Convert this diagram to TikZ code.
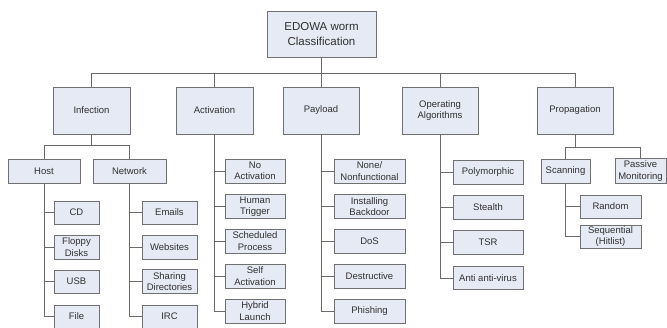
\documentclass[tikz,border=0pt]{standalone}
\usepackage{fontspec}
\setmainfont{Liberation Sans}
\definecolor{boxfill}{HTML}{E6EAF5}
\definecolor{boxline}{HTML}{707070}
\definecolor{linkc}{HTML}{6A6A6A}
\definecolor{txt}{HTML}{303030}
\begin{document}
\begin{tikzpicture}[x=1pt,y=-1pt,
  box/.style={draw=boxline, fill=boxfill, line width=0.8pt, inner sep=0pt, align=center, text=txt,
    font=\fontsize{9.5}{11.5}\selectfont},
  link/.style={draw=linkc, line width=0.8pt}]
\useasboundingbox (0,0) rectangle (667,327);
\clip (0,0) rectangle (667,327);
% root
\node[box, minimum width=109, minimum height=46, font=\fontsize{11.5}{15.5}\selectfont] (root) at (321.5,34) {EDOWA worm\\Classification};
% level 1
\node[box, minimum width=77, minimum height=47] (inf) at (91.5,110.5) {Infection};
\node[box, minimum width=77, minimum height=47] (act) at (214.5,110.5) {Activation};
\node[box, minimum width=76, minimum height=47] (pay) at (321,110.5) {Payload};
\node[box, minimum width=76, minimum height=47] (opa) at (440,110.5) {Operating\\Algorithms};
\node[box, minimum width=76, minimum height=47] (pro) at (575,110.5) {Propagation};
% infection level 2
\node[box, minimum width=72, minimum height=24] (host) at (44,171) {Host};
\node[box, minimum width=73, minimum height=24] (net) at (129.5,171) {Network};
% host children
\node[box, minimum width=45, minimum height=23] (cd) at (76.5,212.5) {CD};
\node[box, minimum width=45, minimum height=24] (floppy) at (76.5,247) {Floppy\\Disks};
\node[box, minimum width=45, minimum height=23] (usb) at (76.5,281.5) {USB};
\node[box, minimum width=45, minimum height=23] (file) at (76.5,316.5) {File};
% network children
\node[box, minimum width=55, minimum height=23] (emails) at (169.5,212.5) {Emails};
\node[box, minimum width=55, minimum height=24] (web) at (169.5,247) {Websites};
\node[box, minimum width=55, minimum height=24] (share) at (169.5,281.5) {Sharing\\Directories};
\node[box, minimum width=55, minimum height=23] (irc) at (169.5,316.5) {IRC};
% activation children
\node[box, minimum width=60, minimum height=24] (noact) at (255,171) {No\\Activation};
\node[box, minimum width=60, minimum height=24] (human) at (255,206.5) {Human\\Trigger};
\node[box, minimum width=60, minimum height=24] (sched) at (255,241) {Scheduled\\Process};
\node[box, minimum width=60, minimum height=24] (self) at (255,276) {Self\\Activation};
\node[box, minimum width=60, minimum height=24] (hybrid) at (255,311) {Hybrid\\Launch};
% payload children
\node[box, minimum width=71, minimum height=24] (none) at (369.5,171) {None/\\Nonfunctional};
\node[box, minimum width=71, minimum height=24] (backdoor) at (369.5,206.5) {Installing\\Backdoor};
\node[box, minimum width=71, minimum height=24] (dos) at (369.5,241) {DoS};
\node[box, minimum width=71, minimum height=24] (destr) at (369.5,276) {Destructive};
\node[box, minimum width=71, minimum height=24] (phish) at (369.5,311) {Phishing};
% operating algorithms children
\node[box, minimum width=70, minimum height=23.5] (poly) at (488,172.5) {Polymorphic};
\node[box, minimum width=70, minimum height=23.5] (stealth) at (488,207.5) {Stealth};
\node[box, minimum width=70, minimum height=23.5] (tsr) at (488,242.5) {TSR};
\node[box, minimum width=70, minimum height=23.5] (anti) at (488,278) {Anti anti-virus};
% propagation children
\node[box, minimum width=49, minimum height=24] (scan) at (565.5,171) {Scanning};
\node[box, minimum width=51, minimum height=25] (passive) at (640.5,171) {Passive\\Monitoring};
\node[box, minimum width=61, minimum height=23] (random) at (610.5,206.5) {Random};
\node[box, minimum width=61, minimum height=23] (seq) at (610.5,236.5) {Sequential\\(Hitlist)};
% buses
\coordinate (bus) at (0,73);
\coordinate (ibus) at (0,145);
\coordinate (pbus) at (0,147);
\draw[link] (root.south) -- (root.south |- bus);
\draw[link] (inf.north) -- (inf.north |- bus) -- (pro.north |- bus) -- (pro.north);
\foreach \n in {act,pay,opa} \draw[link] (\n.north) -- (\n.north |- bus);
\draw[link] (inf.south) -- (inf.south |- ibus);
\draw[link] (host.north) -- (host.north |- ibus) -- (net.north |- ibus) -- (net.north);
\draw[link] (pro.south) -- (pro.south |- pbus);
\draw[link] (scan.north) -- (scan.north |- pbus) -- (passive.north |- pbus) -- (passive.north);
% children links
\foreach \c in {cd,floppy,usb,file} \draw[link] (host.south) |- (\c.west);
\foreach \c in {emails,web,share,irc} \draw[link] (net.south) |- (\c.west);
\foreach \c in {noact,human,sched,self,hybrid} \draw[link] (act.south) |- (\c.west);
\foreach \c in {none,backdoor,dos,destr,phish} \draw[link] (pay.south) |- (\c.west);
\foreach \c in {poly,stealth,tsr,anti} \draw[link] (opa.south) |- (\c.west);
\foreach \c in {random,seq} \draw[link] (scan.south) |- (\c.west);
\end{tikzpicture}
\end{document}
